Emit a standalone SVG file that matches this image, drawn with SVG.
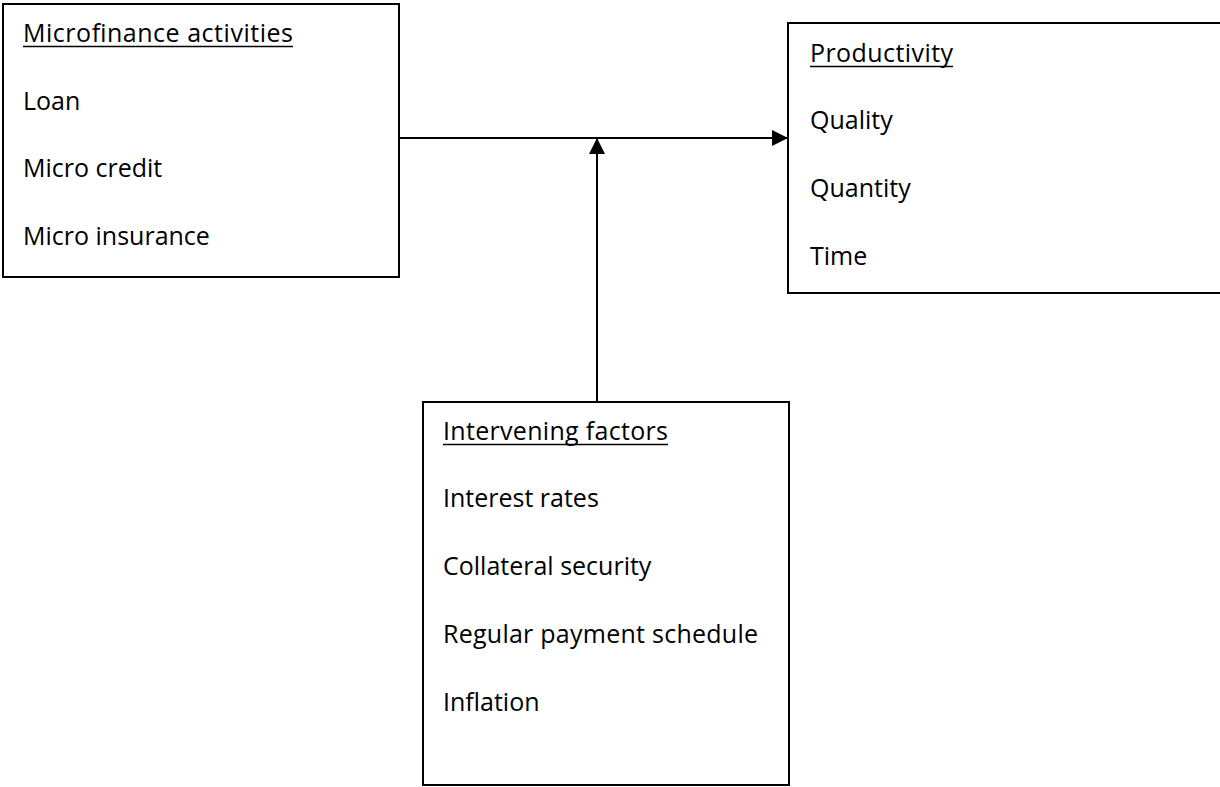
<svg xmlns="http://www.w3.org/2000/svg" width="1220" height="787" viewBox="0 0 1220 787">
<style>
.box{fill:#fff;stroke:#000;stroke-width:2}
.t{font-family:"Open Sans","Liberation Sans",sans-serif;font-size:25px;fill:#000}
.ul{stroke:#000;stroke-width:1.6}
.conn{stroke:#000;stroke-width:2;fill:none}
</style>
<defs>
<marker id="ah" viewBox="0 0 16 16" refX="16" refY="8" markerWidth="16" markerHeight="16" markerUnits="userSpaceOnUse" orient="auto">
<path d="M0,0 L16,8 L0,16 Z" fill="#000"/>
</marker>
</defs>
<rect width="1220" height="787" fill="#fff"/>
<g id="connectors">
<line class="conn" x1="400" y1="138" x2="788" y2="138" marker-end="url(#ah)"/>
<line class="conn" x1="597" y1="402" x2="597" y2="138" marker-end="url(#ah)"/>
</g>
<g id="microfinance">
<rect class="box" x="3" y="4" width="396" height="273"/>
<text class="t" x="23" y="42" textLength="270">Microfinance activities</text>
<line class="ul" x1="23" y1="46.5" x2="293" y2="46.5"/>
<text class="t" x="23" y="110">Loan</text>
<text class="t" x="23" y="177">Micro credit</text>
<text class="t" x="23" y="245">Micro insurance</text>
</g>
<g id="productivity">
<rect class="box" x="788" y="23" width="440" height="270"/>
<text class="t" x="810" y="62" textLength="143">Productivity</text>
<line class="ul" x1="810" y1="66.5" x2="953" y2="66.5"/>
<text class="t" x="810" y="129">Quality</text>
<text class="t" x="810" y="197">Quantity</text>
<text class="t" x="810" y="265">Time</text>
</g>
<g id="intervening">
<rect class="box" x="423" y="402" width="366" height="383"/>
<text class="t" x="443" y="440" textLength="225">Intervening factors</text>
<line class="ul" x1="443" y1="444.5" x2="668" y2="444.5"/>
<text class="t" x="443" y="507">Interest rates</text>
<text class="t" x="443" y="575">Collateral security</text>
<text class="t" x="443" y="643" textLength="315">Regular payment schedule</text>
<text class="t" x="443" y="711">Inflation</text>
</g>
</svg>
